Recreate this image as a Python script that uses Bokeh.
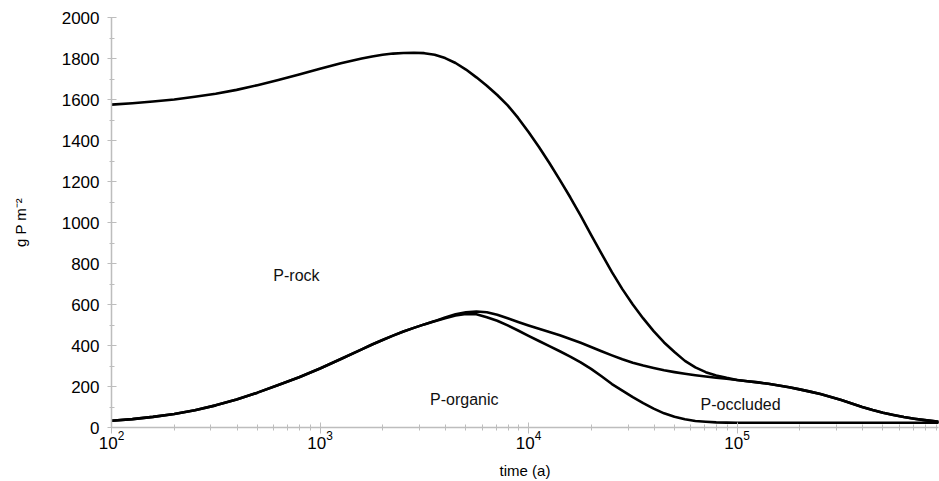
from bokeh.plotting import figure
from bokeh.models import Range1d, SingleIntervalTicker, ColumnDataSource
from bokeh.core.properties import value
from bokeh.embed import file_html
from bokeh.resources import INLINE

# time (a)
time_a = [100, 126, 158, 200, 251, 316, 398, 501, 631, 794,
          1000, 1259, 1585, 1778, 1995, 2239, 2512, 2818, 3162, 3548,
          3981, 4467, 5012, 5623, 6310, 7079, 7943, 8913, 10000, 11220,
          12589, 14125, 15849, 17783, 19953, 22387, 25119, 28184, 31623, 35481,
          39811, 44668, 50119, 56234, 63096, 70795, 79433, 89125, 100000, 112202,
          125893, 141254, 158489, 177828, 199526, 223872, 251189, 281838, 316228, 354813,
          398107, 446684, 501187, 562341, 630957, 707946, 794328, 891251, 925000]

# cumulative boundaries, g P m-2
organic_top = [33, 41, 52, 66, 84, 108, 137, 170, 207, 245,
               288, 334, 381, 405, 427, 448, 468, 486, 503, 518,
               533, 546, 554, 553, 538, 521, 498, 473, 447, 422,
               397, 372, 346, 318, 286, 250, 212, 180, 148, 119,
               92, 69, 52, 40, 32, 28, 25, 24, 23, 23,
               23, 23, 23, 23, 23, 23, 23, 23, 23, 23,
               23, 23, 23, 23, 23, 23, 23, 23, 23]
occluded_top = [33, 41, 52, 66, 84, 108, 137, 170, 207, 245,
                288, 334, 381, 405, 427, 448, 468, 486, 503, 519,
                537, 552, 562, 566, 562, 550, 533, 515, 498, 482,
                466, 450, 432, 413, 393, 372, 352, 333, 316, 302,
                290, 279, 270, 262, 255, 249, 243, 238, 232, 226,
                220, 213, 205, 196, 186, 175, 163, 149, 134, 117,
                100, 85, 72, 61, 51, 43, 36, 30, 28]
rock_top = [1575, 1582, 1590, 1600, 1613, 1628, 1647, 1670, 1695, 1722,
            1750, 1777, 1800, 1810, 1818, 1824, 1827, 1828, 1826, 1818,
            1802, 1778, 1746, 1708, 1667, 1622, 1571, 1510, 1441, 1368,
            1290, 1208, 1123, 1033, 940, 848, 758, 675, 600, 532,
            470, 415, 368, 325, 293, 270, 254, 242, 232, 226,
            220, 213, 205, 196, 186, 175, 163, 149, 134, 117,
            100, 85, 72, 61, 51, 43, 36, 30, 28]

area_names = ["P-rock", "P-organic", "P-occluded"]
name_x = [771, 4920, 104000]
name_y = [742, 138, 113]

FONT = "Liberation Sans"
GRAY = "#bdbdbd"

p = figure(width=939, height=481, x_axis_type="log",
           x_range=Range1d(100, 925000), y_range=Range1d(0, 2000),
           output_backend="svg", toolbar_location=None,
           min_border_left=111, min_border_right=1,
           min_border_top=17, min_border_bottom=54)
p.outline_line_color = None
p.xgrid.visible = False
p.ygrid.visible = False
p.background_fill_color = "white"
p.border_fill_color = "white"

src = ColumnDataSource(dict(t=time_a, org=organic_top, occ=occluded_top, rock=rock_top))
for col in ["org", "occ", "rock"]:
    p.line("t", col, source=src, line_color="black", line_width=2.6,
           line_join="round", line_cap="round")

p.text(x=name_x, y=name_y, text=area_names, text_align="center",
       text_baseline="alphabetic", text_font=value(FONT),
       text_font_size=value("16px"), text_color="#111111")

# y axis
yax = p.yaxis[0]
yax.ticker = SingleIntervalTicker(interval=200, num_minor_ticks=2)
yax.axis_label = "g P m\u207b\u00b2"
yax.axis_label_text_font = FONT
yax.axis_label_text_font_size = "15px"
yax.axis_label_text_font_style = "normal"
yax.axis_label_standoff = 30
yax.major_label_text_font = FONT
yax.major_label_text_font_size = "17px"
yax.major_label_standoff = 8
yax.major_tick_in = 5
yax.major_tick_out = 4
yax.minor_tick_in = 3
yax.minor_tick_out = 2

# x axis
xax = p.xaxis[0]
xax.axis_label = "time (a)"
xax.axis_label_text_font = FONT
xax.axis_label_text_font_size = "15px"
xax.axis_label_text_font_style = "normal"
xax.axis_label_standoff = 10
xax.major_label_text_font = FONT
xax.major_label_text_font_size = "17px"
xax.major_label_standoff = -3
xax.major_tick_in = 5
xax.major_tick_out = 6
xax.minor_tick_in = 3
xax.minor_tick_out = 3

for ax in (xax, yax):
    ax.axis_line_color = GRAY
    ax.axis_line_width = 1.5
    ax.major_tick_line_color = GRAY
    ax.minor_tick_line_color = GRAY
    ax.major_label_text_color = "black"
    ax.axis_label_text_color = "black"

open("out.html", "w").write(file_html(p, INLINE))
